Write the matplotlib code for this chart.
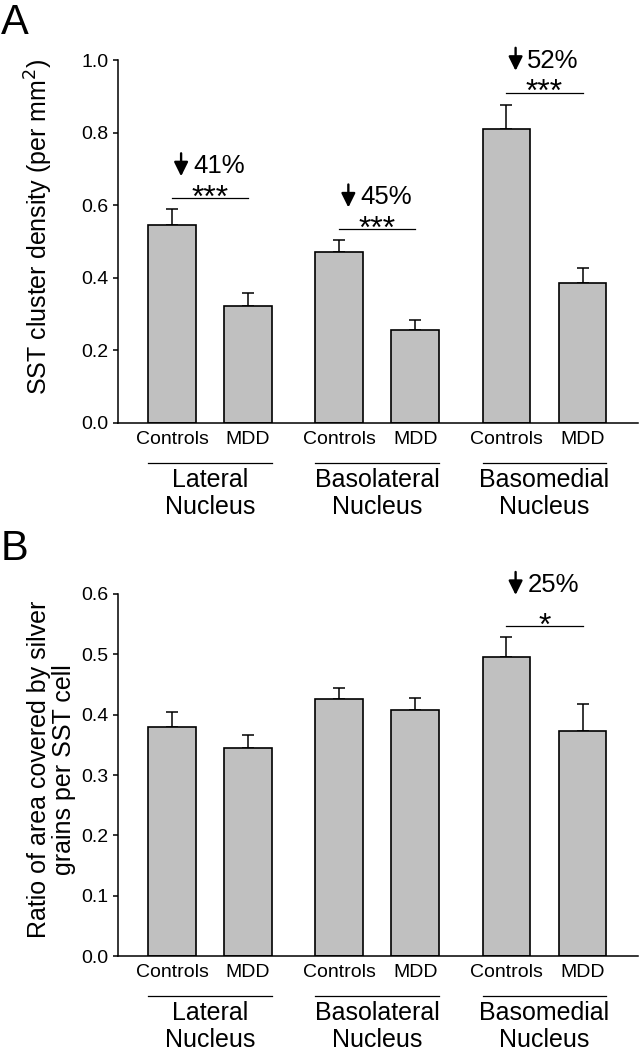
import matplotlib
matplotlib.use('Agg')
import matplotlib.pyplot as plt
from matplotlib import transforms
import numpy as np

plt.rcParams['font.family'] = ['Liberation Sans', 'DejaVu Sans']

groups = ['Lateral\nNucleus', 'Basolateral\nNucleus', 'Basomedial\nNucleus']
conditions = ['Controls', 'MDD']

# panel A: SST cluster density (per mm2)
a_ctrl = [0.544, 0.470, 0.811]
a_ctrl_sem = [0.046, 0.035, 0.065]
a_mdd = [0.323, 0.256, 0.386]
a_mdd_sem = [0.035, 0.028, 0.041]
a_sig_group = [0, 1, 2]
a_sig_stars = ['***', '***', '***']
a_sig_pct = ['41%', '45%', '52%']
a_sig_y = [0.619, 0.533, 0.910]

# panel B: ratio of area covered by silver grains per SST cell
b_ctrl = [0.380, 0.426, 0.496]
b_ctrl_sem = [0.024, 0.019, 0.032]
b_mdd = [0.344, 0.407, 0.373]
b_mdd_sem = [0.022, 0.021, 0.045]
b_sig_group = [2]
b_sig_stars = ['*']
b_sig_pct = ['25%']
b_sig_y = [0.547]

group_x = np.array([0, 2.2, 4.4])
width = 0.625

fig = plt.figure(figsize=(6.41, 10.5), dpi=100)
ax1 = fig.add_axes([118 / 641, 0.5974, 520 / 641, 0.3453])
ax2 = fig.add_axes([118 / 641, 0.0895, 520 / 641, 0.3448])


def draw_panel(ax, ctrl, ctrl_sem, mdd, mdd_sem, ymax, step, sig_g, sig_s, sig_p, sig_y, gap):
    x = np.concatenate([group_x, group_x + 1])
    vals = ctrl + mdd
    sems = ctrl_sem + mdd_sem
    ax.errorbar(x, vals, yerr=[np.zeros(len(sems)), sems], fmt='none', ecolor='k',
                elinewidth=1.1, capsize=4.3, capthick=1.1, zorder=1)
    ax.bar(x, vals, width=width, color='#c0c0c0', edgecolor='k', linewidth=1.2, zorder=2)

    ax.set_xlim(-0.71, 6.13)
    ax.set_ylim(0, ymax)
    ticks = np.arange(0, ymax + 1e-9, step)
    ax.set_yticks(ticks)
    ax.set_yticklabels(['%.1f' % v for v in ticks])
    ax.spines['top'].set_visible(False)
    ax.spines['right'].set_visible(False)
    ax.spines['left'].set_linewidth(1.1)
    ax.spines['bottom'].set_linewidth(1.1)
    ax.tick_params(axis='y', length=3.6, width=1.1, pad=3.5, labelsize=14)
    ax.tick_params(axis='x', length=0, pad=6, labelsize=14)
    ax.set_xticks(np.sort(x))
    ax.set_xticklabels(conditions * 3)

    # group underlines and names
    trans = transforms.blended_transform_factory(ax.transData, ax.transAxes)
    for gx, name in zip(group_x, groups):
        ax.plot([gx - width / 2, gx + 1 + width / 2], [-0.110, -0.110], color='k',
                lw=0.9, transform=trans, clip_on=False)
        ax.text(gx + 0.5, -0.195, name, transform=trans, ha='center', va='center',
                fontsize=18, linespacing=1.15)

    # significance markers
    for g, s, p, y in zip(sig_g, sig_s, sig_p, sig_y):
        gx = group_x[g]
        ax.plot([gx, gx + 1], [y, y], color='k', lw=0.9)
        t = transforms.offset_copy(ax.transData, fig=ax.figure, x=0, y=-8.5, units='dots')
        ax.text(gx + 0.5, y, s, transform=t, ha='center', va='baseline', fontsize=23)
        t2 = transforms.offset_copy(ax.transData, fig=ax.figure, x=0, y=gap - 9, units='dots')
        ax.text(gx + 0.275, y, p, transform=t2, ha='left', va='baseline', fontsize=18.5)
        ta = transforms.offset_copy(ax.transData, fig=ax.figure, x=0, y=gap + 11, units='dots')
        tb = transforms.offset_copy(ax.transData, fig=ax.figure, x=0, y=gap - 12, units='dots')
        ax.annotate('', xy=(gx + 0.12, y), xycoords=tb, xytext=(gx + 0.12, y), textcoords=ta,
                    arrowprops=dict(arrowstyle='-|>,head_length=0.85,head_width=0.42',
                                    color='k', lw=1.7, shrinkA=0, shrinkB=0))


draw_panel(ax1, a_ctrl, a_ctrl_sem, a_mdd, a_mdd_sem, 1.0, 0.2,
           a_sig_group, a_sig_stars, a_sig_pct, a_sig_y, 34)
draw_panel(ax2, b_ctrl, b_ctrl_sem, b_mdd, b_mdd_sem, 0.6, 0.1,
           b_sig_group, b_sig_stars, b_sig_pct, b_sig_y, 43)

ax1.set_ylabel('SST cluster density (per mm$^2$)', fontsize=18)
ax1.yaxis.set_label_coords(-0.121, 0.54)
ax2.set_ylabel('Ratio of area covered by silver\ngrains per SST cell', fontsize=18,
               linespacing=1.05)
ax2.yaxis.set_label_coords(-0.08, 0.515)

fig.text(1 / 641, 1 - 3 / 1050, 'A', fontsize=30, ha='left', va='top')
fig.text(1 / 641, 1 - 529 / 1050, 'B', fontsize=30, ha='left', va='top')

fig.savefig('out.png', dpi=100)
